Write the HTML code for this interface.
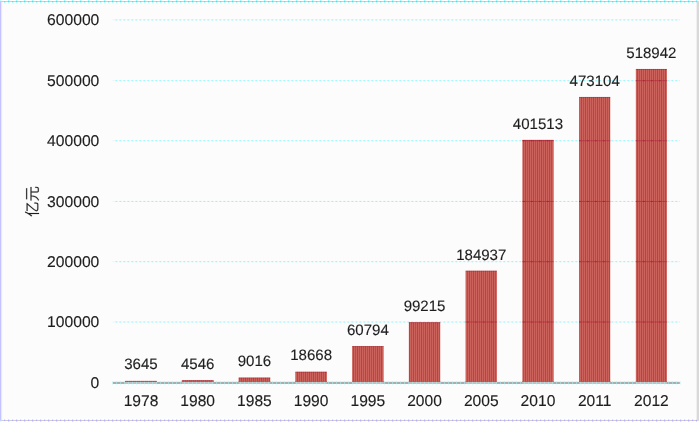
<!DOCTYPE html>
<html lang="zh"><head><meta charset="utf-8"><title>chart</title>
<style>html,body{margin:0;padding:0;background:#fff;}body{width:700px;height:422px;overflow:hidden;}svg{display:block;}text{font-family:"Liberation Sans",sans-serif;fill:#1e1e1e;stroke:#1e1e1e;stroke-width:0.14px;}</style></head><body>
<svg width="700" height="422" viewBox="0 0 700 422">
<defs>
<pattern id="st" patternUnits="userSpaceOnUse" x="0" y="0" width="4" height="8"><rect x="0" y="0" width="4" height="8" fill="#cc625c"/><rect x="1" y="0" width="1" height="8" fill="#c63566"/><rect x="3" y="0" width="1" height="8" fill="#ff2e2e"/></pattern>
<pattern id="gd" patternUnits="userSpaceOnUse" x="0" y="0" width="4" height="4"><rect x="0" y="0" width="4" height="4" fill="#f8f7f7"/><rect x="3" y="0" width="1" height="4" fill="#e6e2e3"/><rect x="0" y="0" width="1.25" height="4" fill="#8cf5fc"/></pattern>
<pattern id="bt" patternUnits="userSpaceOnUse" x="0" y="0" width="8" height="422"><rect x="0" y="0" width="1.2" height="1" fill="#9dfbff"/><rect x="0" y="1" width="8" height="1" fill="#cfcfd0"/><rect x="0" y="1" width="1.2" height="1" fill="#b3adfb"/><rect x="4" y="1" width="1.2" height="1" fill="#b3adfb"/><rect x="0" y="2" width="1.2" height="1" fill="#a8fbff"/><rect x="4" y="2" width="1.2" height="1" fill="#a8fbff"/><rect x="0" y="419" width="1.2" height="1" fill="#a8fbff"/><rect x="4" y="419" width="1.2" height="1" fill="#a8fbff"/><rect x="0" y="420" width="8" height="1" fill="#cfcfd0"/><rect x="0" y="420" width="1.2" height="1" fill="#b3adfb"/><rect x="4" y="420" width="1.2" height="1" fill="#b3adfb"/><rect x="0" y="421" width="1.2" height="1" fill="#9dfbff"/></pattern>
<pattern id="ax" patternUnits="userSpaceOnUse" x="0" y="0" width="4" height="4"><rect x="0" y="0" width="1.1" height="4" fill="#9df3f8" fill-opacity="0.55"/></pattern>
<pattern id="ov" patternUnits="userSpaceOnUse" x="0" y="0" width="8" height="4"><rect x="0" y="0" width="8" height="4" fill="#b3293b" fill-opacity="0.72"/><rect x="3.1" y="0" width="1.4" height="4" fill="#8a1c2c" fill-opacity="0.8"/></pattern>
</defs>
<rect x="0" y="0" width="700" height="422" fill="#ffffff"/>
<rect x="1" y="2" width="696" height="418" fill="#fcfcfc"/>
<rect x="1.2" y="0" width="695.8" height="3" fill="url(#bt)"/>
<rect x="1.2" y="419" width="695.8" height="3" fill="url(#bt)"/>
<rect x="0" y="1" width="1.2" height="420" fill="#c5c3ff"/>
<rect x="1.2" y="2" width="0.9" height="418" fill="#e9e9f2"/>
<rect x="0" y="0.2" width="1" height="0.9" fill="#b0fbff"/><rect x="0" y="420.6" width="1" height="0.9" fill="#b0fbff"/>
<rect x="696.9" y="1" width="2.1" height="420" fill="#d9d9d9"/>
<rect x="696.4" y="2" width="0.6" height="418" fill="#ececec"/>
<rect x="112.90" y="321.50" width="566.90" height="1" fill="url(#gd)"/>
<rect x="112.90" y="261.20" width="566.90" height="1" fill="url(#gd)"/>
<rect x="112.90" y="200.95" width="566.90" height="1" fill="url(#gd)"/>
<rect x="112.90" y="140.25" width="566.90" height="1" fill="url(#gd)"/>
<rect x="112.90" y="80.20" width="566.90" height="1" fill="url(#gd)"/>
<rect x="112.90" y="19.40" width="566.90" height="1" fill="url(#gd)"/>
<rect x="125.10" y="380.90" width="31.80" height="1.50" fill="url(#st)"/>
<rect x="125.10" y="380.90" width="31.80" height="1" fill="#7a0020" fill-opacity="0.24"/>
<rect x="181.85" y="380.15" width="31.72" height="2.25" fill="url(#st)"/>
<rect x="181.85" y="380.15" width="31.72" height="1" fill="#7a0020" fill-opacity="0.24"/>
<rect x="238.60" y="377.55" width="31.64" height="4.85" fill="url(#st)"/>
<rect x="238.60" y="377.55" width="31.64" height="1" fill="#7a0020" fill-opacity="0.24"/>
<rect x="295.35" y="371.72" width="31.56" height="10.68" fill="url(#st)"/>
<rect x="295.35" y="371.72" width="31.56" height="1" fill="#7a0020" fill-opacity="0.24"/>
<rect x="352.10" y="346.08" width="31.48" height="36.32" fill="url(#st)"/>
<rect x="352.10" y="346.08" width="31.48" height="1" fill="#7a0020" fill-opacity="0.24"/>
<rect x="408.85" y="322.22" width="31.40" height="60.18" fill="url(#st)"/>
<rect x="408.85" y="322.22" width="31.40" height="1" fill="#7a0020" fill-opacity="0.24"/>
<rect x="408.85" y="322.22" width="31.40" height="0.28" fill="url(#ov)"/>
<rect x="465.60" y="270.70" width="31.32" height="111.70" fill="url(#st)"/>
<rect x="465.60" y="270.70" width="31.32" height="1" fill="#7a0020" fill-opacity="0.24"/>
<rect x="465.60" y="321.50" width="31.32" height="1.00" fill="url(#ov)"/>
<rect x="522.35" y="139.89" width="31.24" height="242.51" fill="url(#st)"/>
<rect x="522.35" y="139.89" width="31.24" height="1" fill="#7a0020" fill-opacity="0.24"/>
<rect x="522.35" y="321.50" width="31.24" height="1.00" fill="url(#ov)"/>
<rect x="522.35" y="261.20" width="31.24" height="1.00" fill="url(#ov)"/>
<rect x="522.35" y="200.95" width="31.24" height="1.00" fill="url(#ov)"/>
<rect x="522.35" y="140.25" width="31.24" height="1.00" fill="url(#ov)"/>
<rect x="579.10" y="96.95" width="31.16" height="285.45" fill="url(#st)"/>
<rect x="579.10" y="96.95" width="31.16" height="1" fill="#7a0020" fill-opacity="0.24"/>
<rect x="579.10" y="321.50" width="31.16" height="1.00" fill="url(#ov)"/>
<rect x="579.10" y="261.20" width="31.16" height="1.00" fill="url(#ov)"/>
<rect x="579.10" y="200.95" width="31.16" height="1.00" fill="url(#ov)"/>
<rect x="579.10" y="140.25" width="31.16" height="1.00" fill="url(#ov)"/>
<rect x="635.85" y="68.96" width="31.08" height="313.44" fill="url(#st)"/>
<rect x="635.85" y="68.96" width="31.08" height="1" fill="#7a0020" fill-opacity="0.24"/>
<rect x="635.85" y="321.50" width="31.08" height="1.00" fill="url(#ov)"/>
<rect x="635.85" y="261.20" width="31.08" height="1.00" fill="url(#ov)"/>
<rect x="635.85" y="200.95" width="31.08" height="1.00" fill="url(#ov)"/>
<rect x="635.85" y="140.25" width="31.08" height="1.00" fill="url(#ov)"/>
<rect x="635.85" y="80.20" width="31.08" height="1.00" fill="url(#ov)"/>
<rect x="112.90" y="381.85" width="566.90" height="2.15" fill="#adacad"/>
<rect x="125.10" y="381.9" width="31.80" height="2.1" fill="#fff0f0" fill-opacity="0.28"/>
<rect x="181.85" y="381.9" width="31.72" height="2.1" fill="#fff0f0" fill-opacity="0.28"/>
<rect x="238.60" y="381.9" width="31.64" height="2.1" fill="#fff0f0" fill-opacity="0.28"/>
<rect x="295.35" y="381.9" width="31.56" height="2.1" fill="#fff0f0" fill-opacity="0.28"/>
<rect x="352.10" y="381.9" width="31.48" height="2.1" fill="#fff0f0" fill-opacity="0.28"/>
<rect x="408.85" y="381.9" width="31.40" height="2.1" fill="#fff0f0" fill-opacity="0.28"/>
<rect x="465.60" y="381.9" width="31.32" height="2.1" fill="#fff0f0" fill-opacity="0.28"/>
<rect x="522.35" y="381.9" width="31.24" height="2.1" fill="#fff0f0" fill-opacity="0.28"/>
<rect x="579.10" y="381.9" width="31.16" height="2.1" fill="#fff0f0" fill-opacity="0.28"/>
<rect x="635.85" y="381.9" width="31.08" height="2.1" fill="#fff0f0" fill-opacity="0.28"/>
<rect x="112.00" y="381.3" width="568.70" height="3.2" fill="url(#ax)"/>
<rect x="125.10" y="381" width="31.80" height="0.8" fill="#cd4848" fill-opacity="0.9"/>
<rect x="181.85" y="381" width="31.72" height="0.8" fill="#cd4848" fill-opacity="0.9"/>
<rect x="238.60" y="381" width="31.64" height="0.8" fill="#cd4848" fill-opacity="0.9"/>
<rect x="295.35" y="381" width="31.56" height="0.8" fill="#cd4848" fill-opacity="0.9"/>
<rect x="352.10" y="381" width="31.48" height="0.8" fill="#cd4848" fill-opacity="0.9"/>
<rect x="408.85" y="381" width="31.40" height="0.8" fill="#cd4848" fill-opacity="0.9"/>
<rect x="465.60" y="381" width="31.32" height="0.8" fill="#cd4848" fill-opacity="0.9"/>
<rect x="522.35" y="381" width="31.24" height="0.8" fill="#cd4848" fill-opacity="0.9"/>
<rect x="579.10" y="381" width="31.16" height="0.8" fill="#cd4848" fill-opacity="0.9"/>
<rect x="635.85" y="381" width="31.08" height="0.8" fill="#cd4848" fill-opacity="0.9"/>
<g style="filter:grayscale(1);text-rendering:geometricPrecision">
<text x="99.35" y="387.82" font-size="15.7" text-anchor="end">0</text>
<text x="99.35" y="327.42" font-size="15.7" text-anchor="end">100000</text>
<text x="99.35" y="267.02" font-size="15.7" text-anchor="end">200000</text>
<text x="99.35" y="206.62" font-size="15.7" text-anchor="end">300000</text>
<text x="99.35" y="146.22" font-size="15.7" text-anchor="end">400000</text>
<text x="99.35" y="85.82" font-size="15.7" text-anchor="end">500000</text>
<text x="99.35" y="25.42" font-size="15.7" text-anchor="end">600000</text>
<text x="141.00" y="405.8" font-size="15.6" text-anchor="middle">1978</text>
<text x="141.00" y="369.20" font-size="15.05" text-anchor="middle">3645</text>
<text x="197.71" y="405.8" font-size="15.6" text-anchor="middle">1980</text>
<text x="197.71" y="368.65" font-size="15.05" text-anchor="middle">4546</text>
<text x="254.42" y="405.8" font-size="15.6" text-anchor="middle">1985</text>
<text x="254.42" y="365.95" font-size="15.05" text-anchor="middle">9016</text>
<text x="311.13" y="405.8" font-size="15.6" text-anchor="middle">1990</text>
<text x="311.13" y="360.12" font-size="15.05" text-anchor="middle">18668</text>
<text x="367.84" y="405.8" font-size="15.6" text-anchor="middle">1995</text>
<text x="367.84" y="334.68" font-size="15.05" text-anchor="middle">60794</text>
<text x="424.55" y="405.8" font-size="15.6" text-anchor="middle">2000</text>
<text x="424.55" y="311.47" font-size="15.05" text-anchor="middle">99215</text>
<text x="481.26" y="405.8" font-size="15.6" text-anchor="middle">2005</text>
<text x="481.26" y="259.70" font-size="15.05" text-anchor="middle">184937</text>
<text x="537.97" y="405.8" font-size="15.6" text-anchor="middle">2010</text>
<text x="537.97" y="128.89" font-size="15.05" text-anchor="middle">401513</text>
<text x="594.68" y="405.8" font-size="15.6" text-anchor="middle">2011</text>
<text x="594.68" y="85.65" font-size="15.05" text-anchor="middle">473104</text>
<text x="651.39" y="405.8" font-size="15.6" text-anchor="middle">2012</text>
<text x="651.39" y="57.96" font-size="15.05" text-anchor="middle">518942</text>
</g>
<g transform="translate(32.00 201.50) rotate(-90)" fill="#1e1e1e" stroke="#1e1e1e" stroke-width="10">
<g transform="translate(-15.40 5.85) scale(0.01540 -0.01540)"><path d="M390 731V666H787C390 212 371 141 371 81C371 12 424 -30 538 -30H799C896 -30 923 7 934 216C916 220 890 228 873 238C867 67 856 34 803 34L533 35C476 35 438 50 438 88C438 134 464 204 904 699C908 703 912 707 915 711L872 734L856 731ZM286 836C228 682 134 531 33 433C46 418 66 383 73 368C113 409 151 458 188 511V-76H253V615C290 680 322 748 349 817Z"/></g>
<g transform="translate(0.00 5.85) scale(0.01540 -0.01540)"><path d="M147 759V695H857V759ZM61 477V412H320C304 220 265 57 51 -24C66 -36 86 -60 93 -76C325 16 373 195 391 412H587V44C587 -37 610 -60 696 -60C715 -60 825 -60 845 -60C930 -60 948 -14 956 156C937 161 909 173 893 186C889 30 883 4 840 4C815 4 722 4 703 4C663 4 655 10 655 45V412H941V477Z"/></g>
</g>
</svg></body></html>
